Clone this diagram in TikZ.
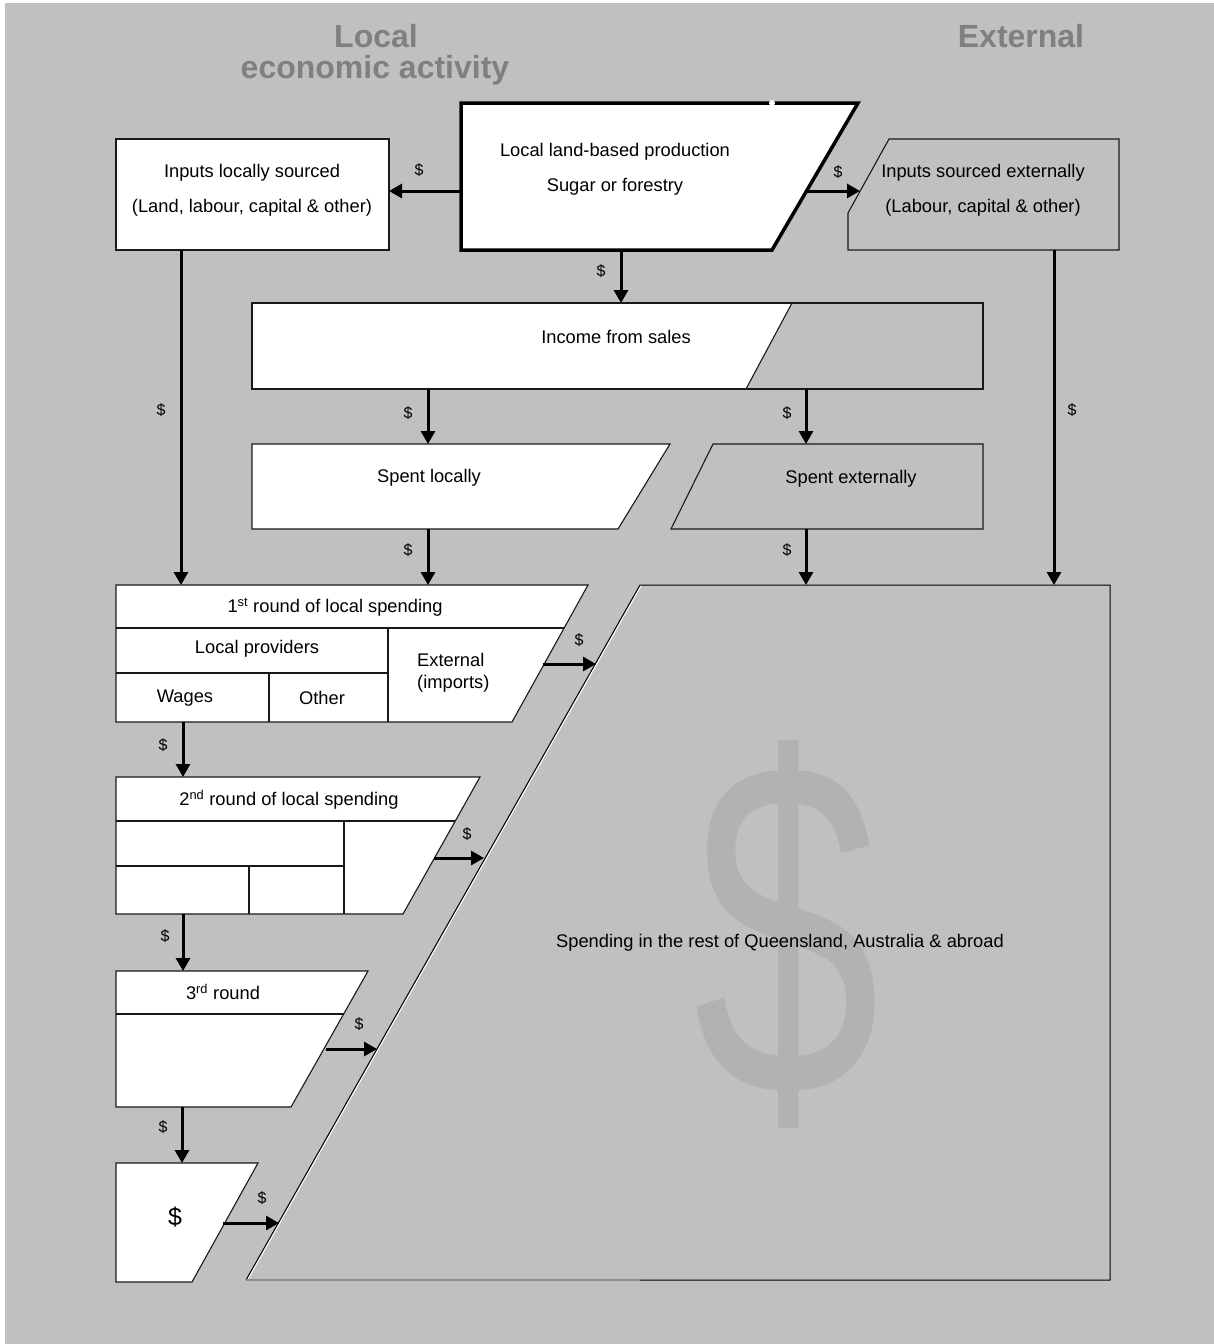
\documentclass[tikz,border=0pt]{standalone}
\usepackage{fontspec}
\setmainfont{Liberation Sans}
\usetikzlibrary{arrows.meta}
\definecolor{bggray}{HTML}{C0C0C0}
\definecolor{titlegray}{HTML}{808080}
\definecolor{biggray}{HTML}{B2B2B2}

\begin{document}
\begin{tikzpicture}[x=1pt,y=-1pt,
  box/.style={draw=black!90,line width=1.1pt,fill=white},
  extbox/.style={draw=black!90,line width=1.1pt,fill=bggray},
  rule/.style={draw=black!90,line width=1.1pt},
  flow/.style={line width=3pt,-{Triangle[length=13pt,width=14pt]}},
  txt/.style={inner sep=0pt,font=\fontsize{18.3}{22}\selectfont},
  cash/.style={inner sep=0pt,font=\fontsize{16}{19}\selectfont},
  ttl/.style={inner sep=0pt,anchor=base,text=titlegray,font=\fontsize{32}{36}\selectfont\bfseries}]
  \useasboundingbox (0,0) rectangle (1214,1344);
  \fill[white] (0,0) rectangle (1214,1344);
  \fill[bggray] (5,3) rectangle (1214,1344);

  % headings
  \node[ttl] (hlocal) at (376,47) {Local};
  \node[ttl] (hecon) at (375,78) {economic activity};
  \node[ttl] (hext) at (1021,47) {External};

  % rest of the world
  \draw[white,line width=1pt] (641.5,585) -- (247.5,1280);
  \draw[line width=1pt] (246,1280) -- (640,585) -- (1110,585) -- (1110,1280) -- (640,1280);
  \draw[black!45,line width=1.2pt] (640,1280) -- (246,1280);
  \node[inner sep=0pt,text=biggray,xscale=0.7,font=\fontsize{480}{480}\selectfont] (bigcash) at (787,934) {\$};
  \node[txt] (world) at (780,943) {Spending in the rest of Queensland, Australia \& abroad};

  % top row
  \draw[line width=3.5pt,fill=white] (461,103) -- (858,103) -- (772,250) -- (461,250) -- cycle;
  \fill[white] (772,103) circle (3);
  \node[txt] (prod1) at (615,152) {Local land-based production};
  \node[txt] (prod2) at (615,187) {Sugar or forestry};
  \draw[box] (116,139) rectangle (389,250);
  \node[txt] (inloc1) at (252,173) {Inputs locally sourced};
  \node[txt] (inloc2) at (252,208) {(Land, labour, capital \& other)};
  \draw[extbox] (889,139) -- (1119,139) -- (1119,250) -- (848,250) -- (848,213) -- cycle;
  \node[txt] (inext1) at (983,173) {Inputs sourced externally};
  \node[txt] (inext2) at (983,208) {(Labour, capital \& other)};

  % income and spending
  \draw[extbox] (252,303) rectangle (983,389);
  \fill[white] (252,303) -- (792,303) -- (746,389) -- (252,389) -- cycle;
  \draw[rule] (792,303) -- (746,389);
  \draw[rule] (746,389) -- (252,389) -- (252,303) -- (792,303);
  \node[txt] (income) at (616,337) {Income from sales};
  \draw[box] (252,444) -- (670,444) -- (618,529) -- (252,529) -- cycle;
  \node[txt] (sploc) at (429,478) {Spent locally};
  \draw[extbox] (713,444) -- (983,444) -- (983,529) -- (671,529) -- cycle;
  \node[txt] (spext) at (851,479) {Spent externally};

  % rounds of local spending
  \draw[box] (116,585) -- (588,585) -- (512,722) -- (116,722) -- cycle;
  \draw[rule] (116,628) -- (564,628);
  \draw[rule] (116,673) -- (388,673);
  \draw[rule] (388,628) -- (388,722);
  \draw[rule] (269,673) -- (269,722);
  \node[txt] (r1) at (335,607) {1\textsuperscript{st} round of local spending};
  \node[txt] (r1prov) at (257,649) {Local providers};
  \node[txt] (r1wage) at (185,698) {Wages};
  \node[txt] (r1other) at (322,698) {Other};
  \node[txt,align=left,anchor=west] (r1ext) at (417,673) {External\\(imports)};

  \draw[box] (116,777) -- (480,777) -- (403,914) -- (116,914) -- cycle;
  \draw[rule] (116,821) -- (455,821);
  \draw[rule] (116,866) -- (344,866);
  \draw[rule] (344,821) -- (344,914);
  \draw[rule] (249,866) -- (249,914);
  \node[txt] (r2) at (289,800) {2\textsuperscript{nd} round of local spending};

  \draw[box] (116,971) -- (368,971) -- (291,1107) -- (116,1107) -- cycle;
  \draw[rule] (116,1014) -- (344,1014);
  \node[txt] (r3) at (223,992) {3\textsuperscript{rd} round};

  \draw[box] (116,1163) -- (258,1163) -- (192,1282) -- (116,1282) -- cycle;
  \node[inner sep=0pt,font=\fontsize{25}{30}\selectfont] (r4) at (175,1217) {\$};

  % money flows
  \coordinate (prodW) at (461,191);
  \coordinate (inlocE) at (389,191);
  \coordinate (prodE) at (807,191);
  \coordinate (inextW) at (860,191);
  \coordinate (prodS) at (621,250);
  \coordinate (incN) at (621,303);
  \coordinate (incSW) at (428,389);
  \coordinate (splocN) at (428,444);
  \coordinate (incSE) at (806,389);
  \coordinate (spextN) at (806,444);
  \coordinate (splocS) at (428,529);
  \coordinate (r1N) at (428,585);
  \coordinate (spextS) at (806,529);
  \coordinate (worldN) at (806,585);
  \coordinate (inlocS) at (181,250);
  \coordinate (r1NW) at (181,585);
  \coordinate (inextS) at (1054,250);
  \coordinate (worldNE) at (1054,585);
  \draw[flow] (prodW) -- (inlocE);
  \draw[flow] (prodE) -- (inextW);
  \draw[flow] (prodS) -- (incN);
  \draw[flow] (incSW) -- (splocN);
  \draw[flow] (incSE) -- (spextN);
  \draw[flow] (splocS) -- (r1N);
  \draw[flow] (spextS) -- (worldN);
  \draw[flow] (inlocS) -- (r1NW);
  \draw[flow] (inextS) -- (worldNE);
  \node[cash] (c1) at (419,170) {\$};
  \node[cash] (c2) at (838,172) {\$};
  \node[cash] (c3) at (601,271) {\$};
  \node[cash] (c4) at (408,413) {\$};
  \node[cash] (c5) at (787,413) {\$};
  \node[cash] (c6) at (408,550) {\$};
  \node[cash] (c7) at (787,550) {\$};
  \node[cash] (c8) at (161,410) {\$};
  \node[cash] (c9) at (1072,410) {\$};

  \coordinate (r1E) at (543,664);
  \coordinate (w1) at (596,664);
  \coordinate (r1S) at (183,722);
  \coordinate (r2N) at (183,777);
  \coordinate (r2E) at (434,858);
  \coordinate (w2) at (484,858);
  \coordinate (r2S) at (183,914);
  \coordinate (r3N) at (183,971);
  \coordinate (r3E) at (326,1049);
  \coordinate (w3) at (377,1049);
  \coordinate (r3S) at (182,1107);
  \coordinate (r4N) at (182,1163);
  \coordinate (r4E) at (223,1223);
  \coordinate (w4) at (279,1223);
  \draw[flow] (r1E) -- (w1);
  \draw[flow] (r1S) -- (r2N);
  \draw[flow] (r2E) -- (w2);
  \draw[flow] (r2S) -- (r3N);
  \draw[flow] (r3E) -- (w3);
  \draw[flow] (r3S) -- (r4N);
  \draw[flow] (r4E) -- (w4);
  \node[cash] (c10) at (579,640) {\$};
  \node[cash] (c11) at (163,745) {\$};
  \node[cash] (c12) at (467,834) {\$};
  \node[cash] (c13) at (165,936) {\$};
  \node[cash] (c14) at (359,1024) {\$};
  \node[cash] (c15) at (163,1127) {\$};
  \node[cash] (c16) at (262,1198) {\$};
\end{tikzpicture}
\end{document}
